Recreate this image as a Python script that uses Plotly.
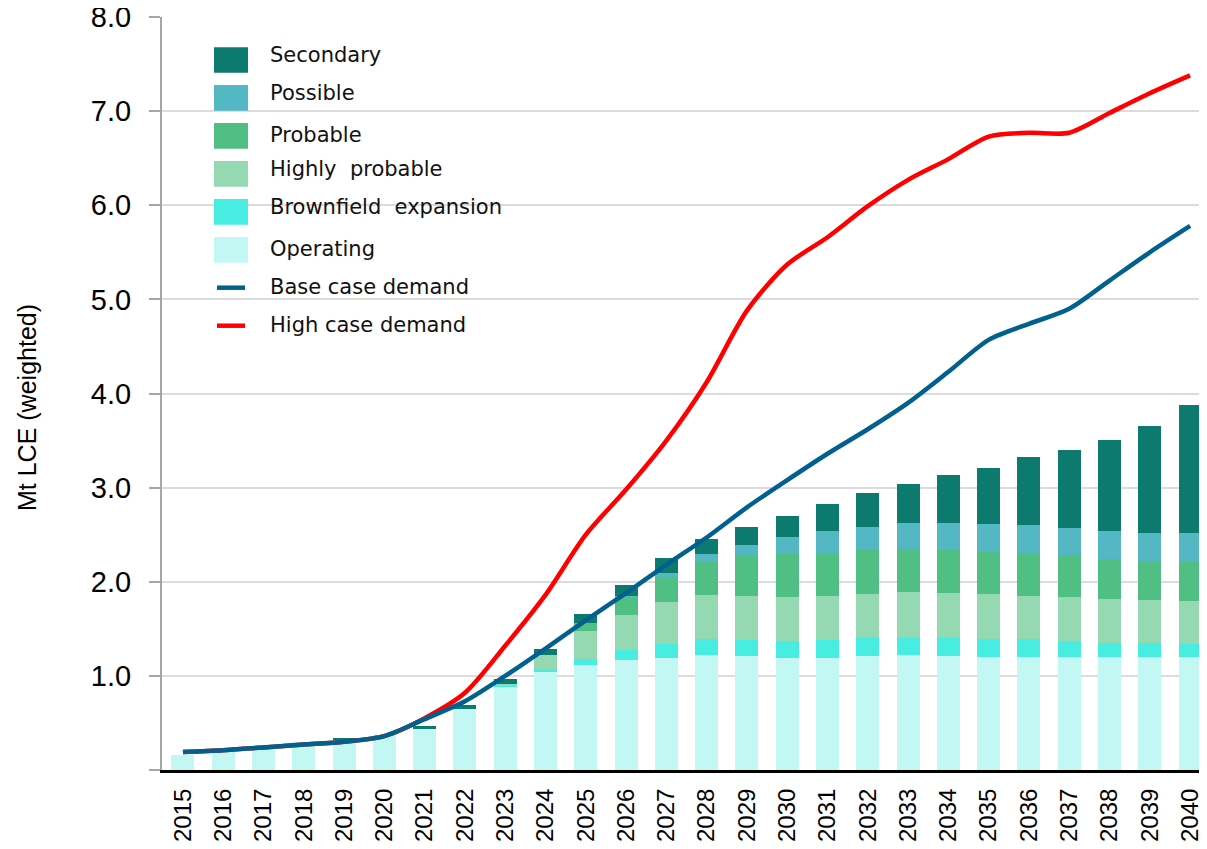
import plotly.graph_objects as go

years = list(range(2015, 2041))
year_labels = [str(y) for y in years]

operating = [0.16, 0.19, 0.22, 0.30, 0.32, 0.37, 0.44, 0.65, 0.89, 1.04, 1.12, 1.17, 1.19,
             1.22, 1.21, 1.19, 1.19, 1.21, 1.22, 1.21, 1.20, 1.20, 1.20, 1.20, 1.20, 1.20]
brownfield = [0, 0, 0, 0, 0, 0, 0, 0, 0.01, 0.03, 0.06, 0.11, 0.15,
              0.17, 0.17, 0.18, 0.19, 0.20, 0.19, 0.20, 0.19, 0.19, 0.17, 0.15, 0.15, 0.14]
highly_probable = [0, 0, 0, 0, 0, 0, 0, 0, 0.01, 0.15, 0.30, 0.37, 0.44,
                   0.47, 0.47, 0.47, 0.47, 0.46, 0.48, 0.47, 0.48, 0.46, 0.47, 0.47, 0.46, 0.46]
probable = [0, 0, 0, 0, 0, 0, 0, 0, 0, 0, 0.08, 0.18, 0.27,
            0.35, 0.43, 0.45, 0.46, 0.47, 0.46, 0.46, 0.45, 0.46, 0.44, 0.42, 0.41, 0.41]
possible = [0, 0, 0, 0, 0, 0, 0, 0, 0, 0, 0, 0.02, 0.04,
            0.08, 0.11, 0.19, 0.23, 0.245, 0.27, 0.28, 0.29, 0.29, 0.29, 0.30, 0.30, 0.31]
secondary = [0, 0, 0, 0, 0.02, 0, 0.03, 0.04, 0.06, 0.07, 0.10, 0.12, 0.16,
             0.16, 0.195, 0.22, 0.29, 0.355, 0.42, 0.51, 0.60, 0.73, 0.83, 0.97, 1.14, 1.36]

base_demand = [0.19, 0.21, 0.24, 0.27, 0.30, 0.36, 0.54, 0.73, 1.00, 1.29, 1.59, 1.88, 2.18,
               2.47, 2.79, 3.08, 3.36, 3.62, 3.90, 4.23, 4.57, 4.74, 4.90, 5.20, 5.50, 5.78]
high_demand = [0.19, 0.21, 0.24, 0.27, 0.30, 0.36, 0.55, 0.82, 1.32, 1.86, 2.50, 2.98, 3.50,
               4.12, 4.88, 5.37, 5.66, 5.99, 6.27, 6.49, 6.73, 6.77, 6.77, 6.98, 7.19, 7.38]

y_ticks = [0, 1, 2, 3, 4, 5, 6, 7, 8]
y_tick_text = ["", "1.0", "2.0", "3.0", "4.0", "5.0", "6.0", "7.0", "8.0"]

bar_series = [
    ("Operating", operating, "#c2f7f3"),
    ("Brownfield expansion", brownfield, "#47ede0"),
    ("Highly probable", highly_probable, "#95d9b2"),
    ("Probable", probable, "#4fbf84"),
    ("Possible", possible, "#53b8c4"),
    ("Secondary", secondary, "#0d7a70"),
]
line_series = [
    ("High case demand", high_demand, "#ff0000"),
    ("Base case demand", base_demand, "#00608e"),
]

fig = go.Figure()
for name, vals, col in bar_series:
    fig.add_trace(go.Bar(x=years, y=vals, name=name, width=0.57,
                         marker=dict(color=col, line=dict(width=0)), showlegend=False))
for name, vals, col in line_series:
    fig.add_trace(go.Scatter(x=years, y=vals, name=name, mode="lines",
                             line=dict(color=col, width=4.5, shape="spline", smoothing=0.8),
                             showlegend=False))

# The page body has an 8px margin; lay out in window pixels and compensate.
OFF = 8
W, H = 1207 - OFF, 849 - OFF
# plot area in window pixels
L, R, T, B = 162, 1207, 17, 770

def px(xp):
    return (xp - L) / (R - L)

def py(yp):
    return (B - yp) / (B - T)

# custom legend (large swatches like the reference)
legend_rows = [
    ("Secondary", "#0d7a70", "box", 47.3, 72.7, 55),
    ("Possible", "#53b8c4", "box", 85, 110.7, 93),
    ("Probable", "#4fbf84", "box", 123, 148.7, 135),
    ("Highly  probable", "#95d9b2", "box", 161, 186.7, 169),
    ("Brownfield  expansion", "#47ede0", "box", 199, 224.7, 207),
    ("Operating", "#c2f7f3", "box", 237, 262.7, 249),
    ("Base case demand", "#00608e", "line", 287.7, 287.7, 287),
    ("High case demand", "#ff0000", "line", 325.7, 325.7, 325),
]
shapes = []
annotations = []
for text, col, kind, y0, y1, ty in legend_rows:
    if kind == "box":
        shapes.append(dict(type="rect", xref="paper", yref="paper",
                           x0=px(214), x1=px(248), y0=py(y1), y1=py(y0),
                           fillcolor=col, line=dict(width=0), layer="above"))
    else:
        shapes.append(dict(type="line", xref="paper", yref="paper",
                           x0=px(217), x1=px(245), y0=py(y0), y1=py(y0),
                           line=dict(color=col, width=4.5), layer="above"))
    annotations.append(dict(text=text, xref="paper", yref="paper", x=px(268), y=py(ty),
                            xanchor="left", yanchor="middle", showarrow=False,
                            font=dict(family="DejaVu Sans", size=21, color="#111111")))

annotations.append(dict(text="Mt LCE (weighted)", xref="paper", yref="paper",
                        x=px(27), y=py(408), xanchor="center", yanchor="middle",
                        textangle=-90, showarrow=False,
                        font=dict(family="Liberation Sans", size=25, color="#000000")))

fig.update_layout(
    width=W, height=H,
    margin=dict(l=L - OFF, r=1207 - R, t=T - OFF, b=849 - B, pad=0, autoexpand=False),
    barmode="stack",
    plot_bgcolor="white", paper_bgcolor="white",
    shapes=shapes, annotations=annotations,
    showlegend=False,
)
fig.update_xaxes(
    range=[2014.48, 2040.42], tickmode="array", tickvals=years, ticktext=year_labels,
    tickangle=-90, showgrid=False, zeroline=False, automargin=False,
    showline=True, linecolor="#000000", linewidth=3, ticks="",
    tickfont=dict(family="Liberation Sans", size=24, color="#000000"),
    ticklabelstandoff=6, ticklabeloverflow="allow",
)
fig.update_yaxes(
    range=[0, 8], tickmode="array", tickvals=y_ticks, ticktext=y_tick_text,
    showgrid=True, gridcolor="#dcdcdc", gridwidth=1.5, zeroline=False, automargin=False,
    showline=True, linecolor="#a6a6a6", linewidth=2,
    ticks="outside", ticklen=11, tickcolor="#a6a6a6", tickwidth=2,
    tickfont=dict(family="Liberation Sans", size=29, color="#000000"),
    ticklabelstandoff=12, ticklabeloverflow="allow",
)

fig.write_html("out.html")
